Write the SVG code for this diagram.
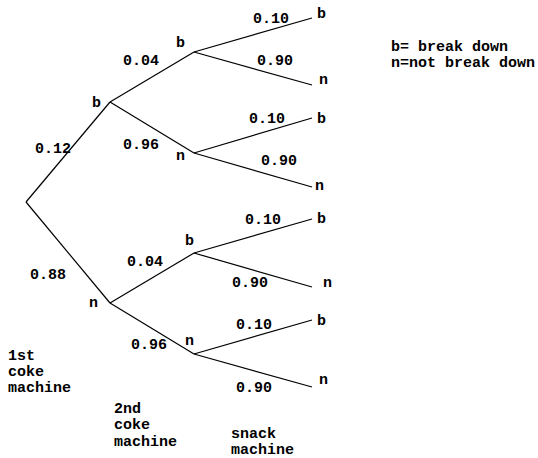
<svg xmlns="http://www.w3.org/2000/svg" width="538" height="458" viewBox="0 0 538 458">
<style>
text{font-family:"Liberation Mono","Courier New",monospace;font-size:15px;font-weight:bold;fill:#000}
.c line{stroke:#000;stroke-width:1.2}
</style>
<rect width="538" height="458" fill="#fff"/>
<g id="connectors" class="c">
<line x1="26" y1="202" x2="110" y2="102"/>
<line x1="26" y1="202" x2="110" y2="303"/>
<line x1="110" y1="102" x2="194" y2="52"/>
<line x1="110" y1="102" x2="194" y2="153"/>
<line x1="110" y1="303" x2="194" y2="253"/>
<line x1="110" y1="303" x2="194" y2="354"/>
<line x1="194" y1="52" x2="312" y2="18"/>
<line x1="194" y1="52" x2="312" y2="85"/>
<line x1="194" y1="153" x2="312" y2="118"/>
<line x1="194" y1="153" x2="312" y2="187"/>
<line x1="194" y1="253" x2="312" y2="219"/>
<line x1="194" y1="253" x2="312" y2="287"/>
<line x1="194" y1="354" x2="312" y2="320"/>
<line x1="194" y1="354" x2="312" y2="387"/>
</g>
<g id="edge-labels">
<text x="35" y="153">0.12</text>
<text x="30" y="279">0.88</text>
<text x="123" y="65">0.04</text>
<text x="123" y="149">0.96</text>
<text x="127" y="266">0.04</text>
<text x="131" y="349">0.96</text>
<text x="253" y="23">0.10</text>
<text x="257" y="65">0.90</text>
<text x="249" y="123">0.10</text>
<text x="261" y="165">0.90</text>
<text x="245" y="224">0.10</text>
<text x="232" y="287">0.90</text>
<text x="236" y="329">0.10</text>
<text x="236" y="392">0.90</text>
</g>
<g id="node-b1"><text x="92" y="107">b</text></g>
<g id="node-n1"><text x="89" y="307">n</text></g>
<g id="node-bb"><text x="176" y="47">b</text></g>
<g id="node-bn"><text x="176" y="160">n</text></g>
<g id="node-nb"><text x="185" y="245">b</text></g>
<g id="node-nn"><text x="185" y="345">n</text></g>
<g id="leaf-bbb"><text x="317" y="18">b</text></g>
<g id="leaf-bbn"><text x="319" y="84">n</text></g>
<g id="leaf-bnb"><text x="317" y="123">b</text></g>
<g id="leaf-bnn"><text x="315" y="190">n</text></g>
<g id="leaf-nbb"><text x="317" y="223">b</text></g>
<g id="leaf-nbn"><text x="323" y="287">n</text></g>
<g id="leaf-nnb"><text x="317" y="325">b</text></g>
<g id="leaf-nnn"><text x="319" y="384">n</text></g>
<g id="legend">
<text x="391" y="51">b= break down</text>
<text x="391" y="67">n=not break down</text>
</g>
<g id="level-labels">
<text x="8" y="360">1st</text>
<text x="8" y="376">coke</text>
<text x="8" y="392">machine</text>
<text x="114" y="413">2nd</text>
<text x="114" y="429">coke</text>
<text x="114" y="446">machine</text>
<text x="231" y="438">snack</text>
<text x="231" y="454">machine</text>
</g>
</svg>
